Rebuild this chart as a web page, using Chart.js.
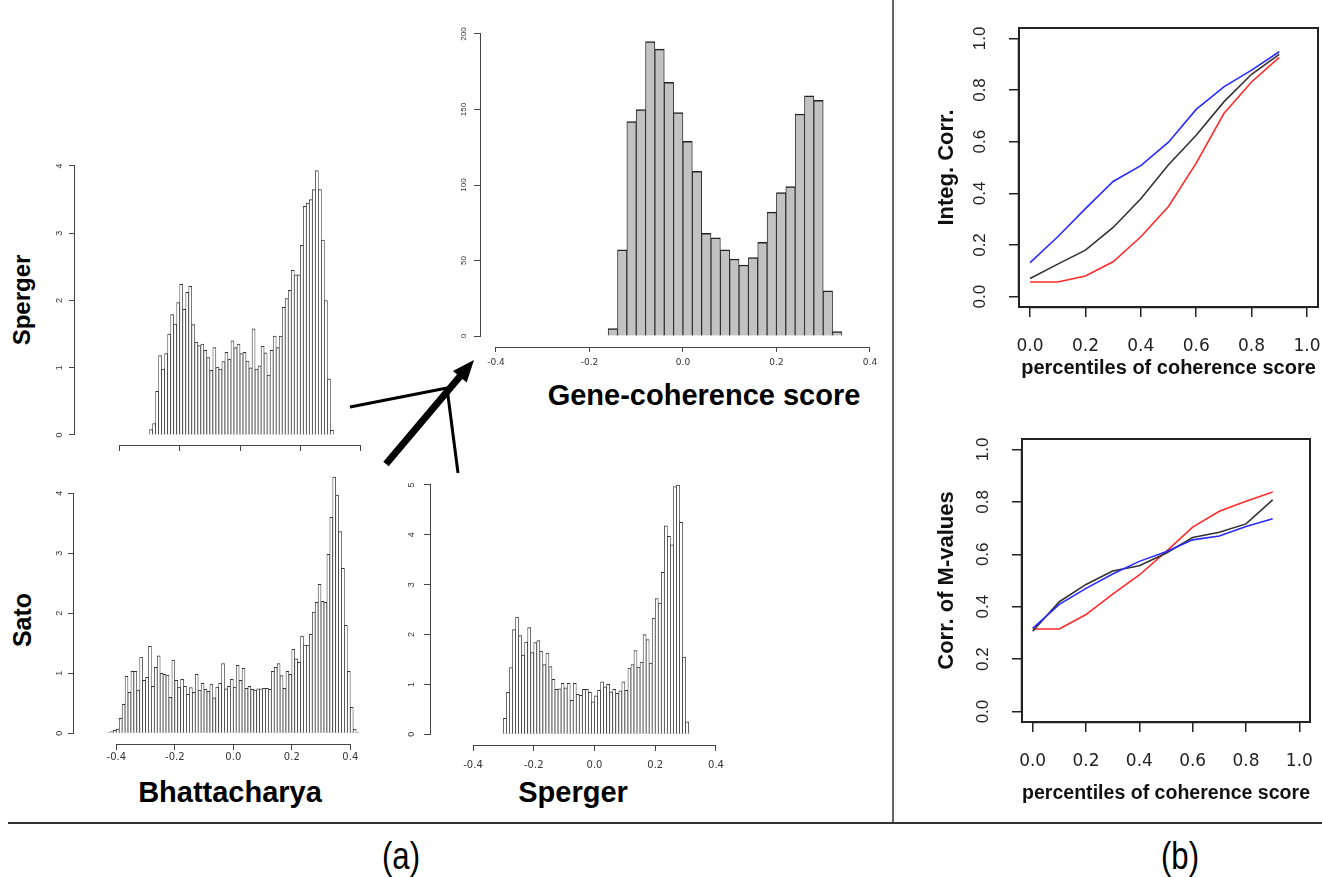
<!DOCTYPE html>
<html>
<head>
<meta charset="utf-8">
<script src="https://cdn.jsdelivr.net/npm/chart.js@4.4.1/dist/chart.umd.min.js"></script>
<style>
body { margin: 0; background: #fff; }
#page { position: relative; width: 1322px; height: 877px; overflow: hidden; font-family: "Liberation Sans", Arial, sans-serif; }
canvas { position: absolute; }
.lab { position: absolute; white-space: nowrap; line-height: 1; color: #000; }
.b { font-weight: bold; }
</style>
</head>
<body>
<div id="page">
<svg width="1322" height="877" style="position:absolute;left:0;top:0">
  <line x1="893" y1="0" x2="893" y2="823" stroke="#333" stroke-width="1.5"/>
  <line x1="8" y1="823" x2="1322" y2="823" stroke="#333" stroke-width="2"/>
  <line x1="350" y1="407" x2="447" y2="388" stroke="#000" stroke-width="3"/>
  <line x1="447" y1="388" x2="458" y2="473" stroke="#000" stroke-width="3"/>
  <line x1="386" y1="464" x2="462" y2="374" stroke="#000" stroke-width="7"/>
  <polygon points="474,360 452.9,371 466.7,382.6" fill="#000"/>
</svg>
<div class="lab b" style="left:22px;top:300px;font-size:24px;transform:translate(-50%,-50%) rotate(-90deg)">Sperger</div>
<div class="lab b" style="left:22px;top:620px;font-size:25px;transform:translate(-50%,-50%) rotate(-90deg)">Sato</div>
<div class="lab b" style="left:230px;top:792px;font-size:29px;transform:translate(-50%,-50%)">Bhattacharya</div>
<div class="lab b" style="left:573px;top:792px;font-size:29px;transform:translate(-50%,-50%)">Sperger</div>
<div class="lab b" style="left:704px;top:395px;font-size:29px;transform:translate(-50%,-50%)">Gene-coherence score</div>
<div class="lab" style="left:401px;top:856px;font-size:38px;transform:translate(-50%,-50%) scaleX(0.82)">(a)</div>
<div class="lab" style="left:1180px;top:856px;font-size:38px;transform:translate(-50%,-50%) scaleX(0.82)">(b)</div>
</div>
<script>
// gene-coherence score histogram (counts), bins of 0.02 from -0.16
var geneCounts = [5, 57, 142, 150, 195, 190, 168, 148, 129, 109, 68, 65, 57, 51, 47, 52, 62, 82, 95, 99, 147, 159, 156, 30, 3];
var geneFrom = -0.16, geneBy = 0.02;

// densities, bins of 0.01
var spergerTop = [0.08,0.17,0.65,1.18,0.98,1.21,1.5,1.79,1.65,1.97,2.24,1.87,2.12,2.21,1.64,1.38,1.33,1.35,1.26,1.15,
  0.96,1.3,1.01,0.98,1.09,1.23,1.13,1.4,1.3,1.35,1.21,1.23,1.1,1.0,1.58,0.98,1.03,1.32,1.22,0.89,
  1.26,1.47,1.3,1.47,1.9,2.03,2.15,2.45,2.38,2.38,2.82,3.4,3.45,3.5,3.65,3.93,3.65,2.9,2.0,0.83,0.07];
var spergerTopFrom = -0.30;

var bhatt = [0.01,0.03,0.05,0.07,0.25,0.48,0.95,0.68,1.03,1.03,
  0.72,1.27,0.88,0.93,1.45,0.78,1.1,1.29,1.0,0.98,
  0.97,0.6,1.22,0.88,0.77,0.9,0.78,0.65,0.76,0.68,
  0.98,0.72,0.83,0.73,0.7,0.82,0.59,0.77,0.83,1.16,
  0.74,0.78,0.9,0.77,1.13,0.88,1.08,0.75,0.78,0.73,
  0.72,0.74,0.74,0.75,0.75,0.73,1.03,1.1,1.16,0.96,
  0.75,1.03,0.98,1.4,1.24,1.18,1.62,1.47,1.47,1.65,
  2.02,2.18,2.48,2.2,2.18,2.98,3.6,4.27,3.97,3.36,
  2.75,1.8,1.03,0.43,0.07,0.02];
var bhattFrom = -0.43;

var spergerBot = [0.32,0.84,1.34,2.1,2.35,1.98,1.59,1.85,2.14,1.64,1.84,1.88,1.67,1.4,1.63,1.36,1.1,0.9,0.91,
  1.02,0.93,1.02,0.68,1.02,0.8,0.78,0.9,0.9,0.84,0.65,0.77,0.88,1.05,0.95,1.0,0.85,0.9,0.82,0.87,1.05,
  0.88,1.33,1.4,1.68,1.35,1.45,2.0,1.9,1.43,2.33,2.72,2.63,3.25,4.18,3.97,3.8,4.97,5.0,4.25,1.55,0.25];
var spergerBotFrom = -0.30;
var densBy = 0.01;

var histTicksX = [-0.4, -0.2, 0, 0.2, 0.4];
var geneTicksY = [0, 50, 100, 150, 200];
var densTicks4 = [0, 1, 2, 3, 4];
var densTicks5 = [0, 1, 2, 3, 4, 5];

// (b) percentiles of coherence score
var pct = [0, 0.1, 0.2, 0.3, 0.4, 0.5, 0.6, 0.7, 0.8, 0.9];
var integRed   = [0.057, 0.057, 0.08, 0.135, 0.232, 0.349, 0.517, 0.709, 0.831, 0.926];
var integBlack = [0.07, 0.126, 0.18, 0.268, 0.379, 0.511, 0.625, 0.754, 0.861, 0.938];
var integBlue  = [0.132, 0.232, 0.341, 0.446, 0.507, 0.598, 0.725, 0.812, 0.877, 0.948];
var mvalRed    = [0.315, 0.315, 0.37, 0.448, 0.521, 0.61, 0.704, 0.764, 0.802, 0.838];
var mvalBlack  = [0.306, 0.419, 0.485, 0.536, 0.556, 0.604, 0.664, 0.684, 0.716, 0.808];
var mvalBlue   = [0.317, 0.409, 0.47, 0.525, 0.573, 0.61, 0.655, 0.67, 0.706, 0.736];
var unitTicks = [0, 0.2, 0.4, 0.6, 0.8, 1.0];

var page = document.getElementById('page');

// R style axes: line from first to last tick, optional box
var rAxes = {
  id: 'rAxes',
  afterDraw: function(chart, args, opts) {
    var ctx = chart.ctx, a = chart.chartArea, x = chart.scales.x, y = chart.scales.y;
    var xt = x.ticks, yt = y.ticks;
    ctx.save();
    ctx.strokeStyle = opts.color || '#444';
    ctx.lineWidth = opts.width || 1;
    ctx.beginPath();
    var by = Math.round(a.bottom) + 0.5, lx = Math.round(a.left) - 0.5;
    ctx.moveTo(x.getPixelForValue(xt[0].value), by);
    ctx.lineTo(x.getPixelForValue(xt[xt.length - 1].value), by);
    ctx.moveTo(lx, y.getPixelForValue(yt[0].value));
    ctx.lineTo(lx, y.getPixelForValue(yt[yt.length - 1].value));
    ctx.stroke();
    if (opts.box) {
      ctx.lineWidth = opts.boxWidth || 2;
      ctx.strokeRect(a.left, a.top, a.width, a.height);
    }
    ctx.restore();
  }
};

function fixTicks(list) {
  return function(s) { s.ticks = list.map(function(v) { return { value: v }; }); };
}

function makeChart(id, area, m, config) {
  var c = document.createElement('canvas');
  c.id = id;
  var w = area.r - area.l + m.l + m.r, h = area.b - area.t + m.t + m.b;
  c.width = w; c.height = h;
  c.style.left = (area.l - m.l) + 'px';
  c.style.top = (area.t - m.t) + 'px';
  c.style.width = w + 'px';
  c.style.height = h + 'px';
  page.appendChild(c);
  config.options.layout = { autoPadding: false, padding: { left: 0, top: m.t, right: m.r, bottom: 0 } };
  config.options.scales.x.afterFit = function(s) { s.height = m.b; s.paddingLeft = 0; s.paddingRight = 0; };
  config.options.scales.y.afterFit = function(s) { s.width = m.l; s.paddingTop = 0; s.paddingBottom = 0; };
  return new Chart(c, config);
}

function centers(from, by, n) {
  var out = [];
  for (var i = 0; i < n; i++) out.push(from + by * (i + 0.5));
  return out;
}

function histConfig(vals, from, by, o) {
  var cx = centers(from, by, vals.length);
  return {
    type: 'bar',
    data: {
      datasets: [{
        data: vals.map(function(v, i) { return { x: cx[i], y: v }; }),
        backgroundColor: o.fill,
        borderColor: o.edge,
        borderWidth: o.bw,
        borderSkipped: 'start',
        barPercentage: 1,
        categoryPercentage: 1
      }]
    },
    options: {
      responsive: false,
      animation: false,
      events: [],
      plugins: { legend: { display: false }, tooltip: { enabled: false }, rAxes: { color: '#444', width: 1 } },
      scales: {
        x: {
          type: 'linear', min: o.xmin, max: o.xmax, offset: false,
          afterBuildTicks: fixTicks(histTicksX),
          grid: { offset: false, drawOnChartArea: false, drawTicks: true, tickLength: o.xtl, color: '#444' },
          border: { display: false },
          ticks: {
            display: o.xlabels, padding: o.xpad, color: '#333', maxRotation: 0,
            font: { family: 'DejaVu Sans', size: o.xfont },
            callback: function(v) { return v.toFixed(1); }
          }
        },
        y: {
          type: 'linear', min: o.ymin, max: o.ymax,
          afterBuildTicks: fixTicks(o.yticks),
          grid: { drawOnChartArea: false, drawTicks: true, tickLength: o.ytl, color: '#444' },
          border: { display: false },
          ticks: {
            minRotation: 90, maxRotation: 90, crossAlign: 'center', padding: o.ypad, color: '#333',
            font: { family: 'Liberation Sans', size: o.yfont },
            callback: function(v) { return String(v); }
          }
        }
      }
    },
    plugins: [rAxes]
  };
}

makeChart('gene', { l: 481, r: 880, t: 25, b: 347 }, { l: 40, r: 10, t: 5, b: 30 },
  histConfig(geneCounts, geneFrom, geneBy, {
    fill: '#c2c2c2', edge: '#222', bw: { top: 1.5, left: 0.9, right: 0.9, bottom: 0 },
    xmin: -0.432, xmax: 0.4215, ymin: -7.28, ymax: 205.96, yticks: geneTicksY,
    xtl: 5, xpad: 5, xfont: 9, xlabels: true, ytl: 7, ypad: 4, yfont: 8
  }));

makeChart('spTop', { l: 75, r: 365, t: 160, b: 445 }, { l: 30, r: 5, t: 5, b: 12 },
  histConfig(spergerTop, spergerTopFrom, densBy, {
    fill: '#fff', edge: '#333', bw: { top: 1, left: 0.75, right: 0.75, bottom: 0 },
    xmin: -0.5473, xmax: 0.4146, ymin: -0.149, ymax: 4.089, yticks: densTicks4,
    xtl: 6, xpad: 4, xfont: 10, xlabels: false, ytl: 6, ypad: 7, yfont: 9
  }));

makeChart('bhatt', { l: 74, r: 365, t: 474, b: 744 }, { l: 30, r: 5, t: 2, b: 22 },
  histConfig(bhatt, bhattFrom, densBy, {
    fill: '#fff', edge: '#333', bw: { top: 1, left: 0.75, right: 0.75, bottom: 0 },
    xmin: -0.5446, xmax: 0.4503, ymin: -0.179, ymax: 4.32, yticks: densTicks4,
    xtl: 6, xpad: 1, xfont: 10, xlabels: true, ytl: 6, ypad: 6, yfont: 9
  }));

makeChart('spBot', { l: 431, r: 722, t: 478, b: 745 }, { l: 30, r: 8, t: 2, b: 30 },
  histConfig(spergerBot, spergerBotFrom, densBy, {
    fill: '#fff', edge: '#333', bw: { top: 1, left: 0.75, right: 0.75, bottom: 0 },
    xmin: -0.5383, xmax: 0.4198, ymin: -0.2146, ymax: 5.14, yticks: densTicks5,
    xtl: 6, xpad: 8, xfont: 10, xlabels: true, ytl: 7, ypad: 10, yfont: 9
  }));

function lineConfig(red, black, blue, ytitle, ypadTitle, ytickPad) {
  function ds(vals, col) {
    return {
      data: vals.map(function(v, i) { return { x: pct[i], y: v }; }),
      borderColor: col, borderWidth: 1.6, pointRadius: 0, tension: 0, fill: false
    };
  }
  return {
    type: 'line',
    data: { datasets: [ds(blue, '#2a2aff'), ds(black, '#333'), ds(red, '#ff2a2a')] },
    options: {
      responsive: false,
      animation: false,
      events: [],
      plugins: { legend: { display: false }, tooltip: { enabled: false }, rAxes: { color: '#222', width: 1.5, box: true, boxWidth: 2 } },
      scales: {
        x: {
          type: 'linear', min: -0.04, max: 1.04,
          afterBuildTicks: fixTicks(unitTicks),
          grid: { drawOnChartArea: false, drawTicks: true, tickLength: 10, color: '#222', lineWidth: 1.5 },
          border: { display: false },
          ticks: {
            padding: 19, color: '#222', maxRotation: 0,
            font: { family: 'DejaVu Sans', size: 17 },
            callback: function(v) { return v.toFixed(1); }
          },
          title: {
            display: true, text: 'percentiles of coherence score', color: '#111',
            font: { family: 'Liberation Sans', size: 20, weight: 'bold' },
            padding: { top: 0, bottom: 2 }
          }
        },
        y: {
          type: 'linear', min: -0.04, max: 1.04,
          afterBuildTicks: fixTicks(unitTicks),
          grid: { drawOnChartArea: false, drawTicks: true, tickLength: 10, color: '#222', lineWidth: 1.5 },
          border: { display: false },
          ticks: {
            minRotation: 90, maxRotation: 90, crossAlign: 'center', padding: ytickPad, color: '#222',
            font: { family: 'Liberation Sans', size: 17 },
            callback: function(v) { return v.toFixed(1); }
          },
          title: {
            display: true, text: ytitle, color: '#111',
            font: { family: 'Liberation Sans', size: 22, weight: 'bold' },
            padding: { top: ypadTitle, bottom: 0 }
          }
        }
      }
    },
    plugins: [rAxes]
  };
}

makeChart('integ', { l: 1019, r: 1318, t: 28, b: 307 }, { l: 90, r: 4, t: 5, b: 75 },
  lineConfig(integRed, integBlack, integBlue, 'Integ. Corr.', 4.8, 17));

makeChart('mval', { l: 1022, r: 1310, t: 439, b: 722 }, { l: 90, r: 12, t: 5, b: 85 },
  lineConfig(mvalRed, mvalBlack, mvalBlue, 'Corr. of M-values', 1.5, 17));
</script>
</body>
</html>
